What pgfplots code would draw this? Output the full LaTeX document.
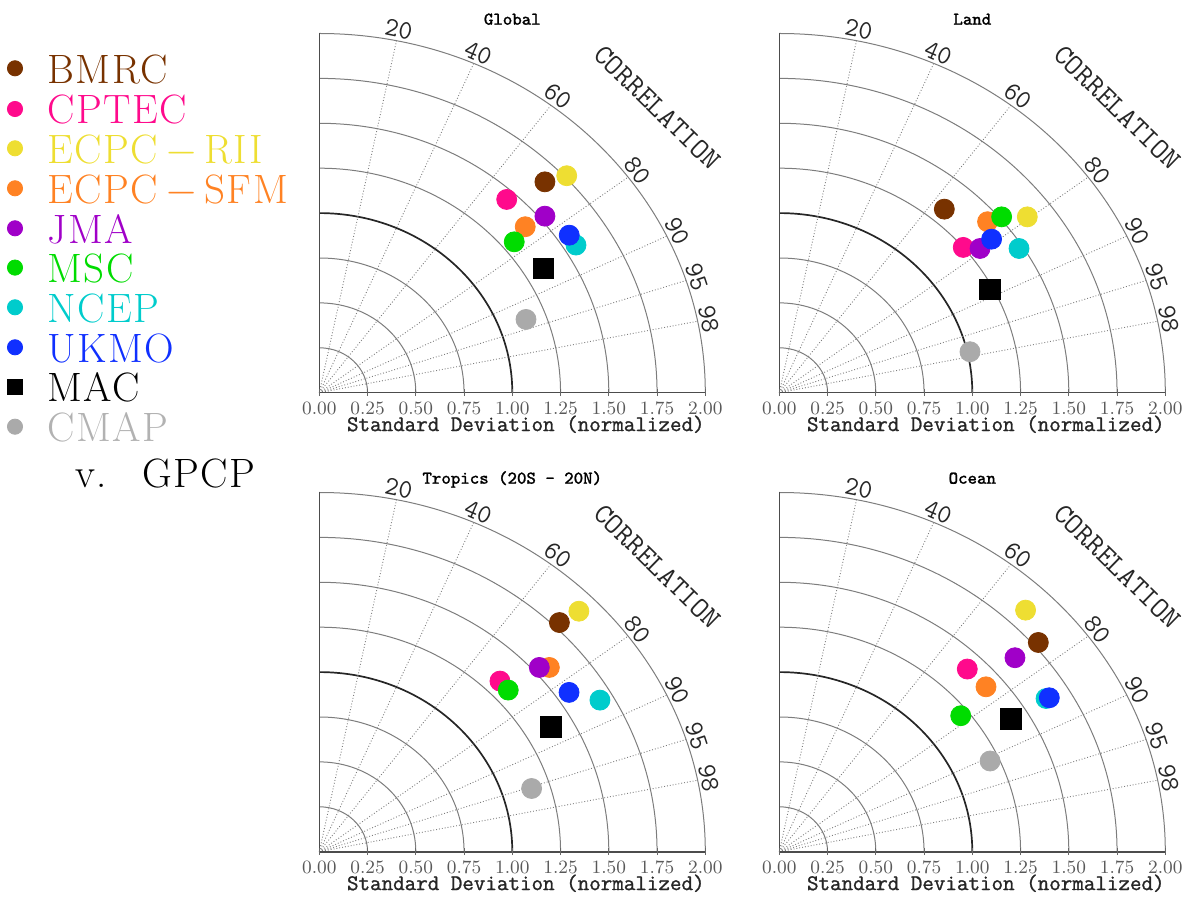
\documentclass[border=0pt]{standalone}
\usepackage{fontspec}
\usepackage{pgfplots}
\usepackage{pgfplotstable}
\pgfplotsset{compat=1.18}
\newfontfamily\lmmono{Latin Modern Mono}
\newfontfamily\lmmonob{Latin Modern Mono}[FakeBold=1.2]
\newfontfamily\legfont{Latin Modern Roman}[LetterSpace=4]
\definecolor{cBMRC}{RGB}{120,50,0}
\definecolor{cCPTEC}{RGB}{255,10,140}
\definecolor{cRII}{RGB}{238,222,50}
\definecolor{cSFM}{RGB}{255,130,35}
\definecolor{cJMA}{RGB}{160,0,200}
\definecolor{cMSC}{RGB}{0,220,0}
\definecolor{cNCEP}{RGB}{0,204,204}
\definecolor{cUKMO}{RGB}{16,48,255}
\definecolor{cMAC}{RGB}{0,0,0}
\definecolor{cCMAP}{RGB}{170,170,170}
\definecolor{gridgray}{RGB}{125,125,125}

% x = std*corr, y = std*sqrt(1-corr^2) (normalized std dev)
\pgfplotstableread{
x y m
1.169 1.174 BMRC
0.971 1.076 CPTEC
1.282 1.208 RII
1.067 0.924 SFM
1.169 0.983 JMA
1.010 0.840 MSC
1.330 0.822 NCEP
1.295 0.877 UKMO
1.161 0.692 MAC
1.071 0.408 CMAP
}\globaldata
\pgfplotstableread{
x y m
0.855 1.022 BMRC
0.953 0.809 CPTEC
1.285 0.979 RII
1.079 0.952 SFM
1.040 0.803 JMA
1.152 0.979 MSC
1.242 0.803 NCEP
1.100 0.855 UKMO
1.092 0.575 MAC
0.988 0.228 CMAP
}\landdata
\pgfplotstableread{
x y m
1.244 1.276 BMRC
0.936 0.950 CPTEC
1.345 1.339 RII
1.192 1.026 SFM
1.140 1.026 JMA
0.979 0.900 MSC
1.454 0.844 NCEP
1.294 0.887 UKMO
1.199 0.696 MAC
1.100 0.352 CMAP
}\tropicsdata
\pgfplotstableread{
x y m
1.342 1.165 BMRC
0.974 1.017 CPTEC
1.276 1.345 RII
1.071 0.918 SFM
1.221 1.080 JMA
0.940 0.757 MSC
1.382 0.853 NCEP
1.399 0.857 UKMO
1.199 0.738 MAC
1.092 0.505 CMAP
}\oceandata
\pgfplotstableread{
x y m
15 68.3 BMRC
15 109.0 CPTEC
15 148.3 RII
15 188.3 SFM
15 228.3 JMA
15 267.6 MSC
15 307.3 NCEP
15 347.3 UKMO
15 386.7 MAC
15 426.7 CMAP
}\legenddata

\pgfplotsset{
  mclasses/.style={scatter/classes={
    BMRC={mark=*,cBMRC}, CPTEC={mark=*,cCPTEC}, RII={mark=*,cRII},
    SFM={mark=*,cSFM}, JMA={mark=*,cJMA}, MSC={mark=*,cMSC},
    NCEP={mark=*,cNCEP}, UKMO={mark=*,cUKMO},
    MAC={mark=square*,black,mark size=#1}, CMAP={mark=*,cCMAP}}},
  taylor/.style n args={3}{
    at={(#1,#2)}, anchor=south west,
    x=96.5pt, y=89.8pt, xmin=0, xmax=2, ymin=0, ymax=2,
    enlargelimits=false, clip=false,
    axis x line=bottom, axis y line=none,
    axis line style={draw=none},
    xtick={0,0.25,0.5,0.75,1,1.25,1.5,1.75,2},
    xticklabels={0.00,0.25,0.50,0.75,1.00,1.25,1.50,1.75,2.00},
    ytick=\empty,
    tick align=center, major tick length=3.5pt,
    tick style={black!60, line width=0.5pt},
    xticklabel style={font=\fontsize{9.4}{9.4}\selectfont, text=black!65, inner sep=1pt, yshift=-1.6pt},
    xlabel={Standard Deviation (normalized)},
    xlabel style={font=\lmmonob\fontsize{11.2}{11.2}\selectfont, text=black!85,
      at={(axis description cs:0.535,0)}, anchor=base, yshift=-19.2pt},
    title={#3},
    title style={font=\lmmonob\fontsize{9}{9}\selectfont, text=black,
      at={(axis description cs:0.5,1)}, anchor=base, yshift=-1.6pt},
  }
}

\newcommand\taylorgrid[2]{%
\begin{scope}[shift={(#1,#2)}, x=96.5pt, y=89.8pt]
 \foreach \r in {0.25,0.5,0.75,1.25,1.5,1.75,2}{
   \draw[gridgray, line width=0.5pt] (\r,0) arc[start angle=0, end angle=90, x radius=\r, y radius=\r];}
 \draw[black!85, line width=0.85pt] (1,0) arc[start angle=0, end angle=90, x radius=1, y radius=1];
 \foreach \c/\lab in {0.2/20,0.4/40,0.6/60,0.8/80,0.9/90,0.95/95,0.98/98}{
   \draw[gridgray, densely dotted, line width=0.45pt] (0,0) -- ({2*\c},{2*sqrt(1-\c*\c)});
   \node[anchor=south, rotate={acos(\c)-90}, inner sep=1.2pt,
     font=\lmmono\fontsize{13.3}{13.3}\selectfont, text=black!85] at ({2*\c},{2*sqrt(1-\c*\c)}) {\lab};}
 \node[rotate=-44.3, font=\lmmono\fontsize{14.5}{14.5}\selectfont, text=black!85] at (1.751,1.588) {CORRELATION};
 \draw[black!70, line width=0.8pt] (0,2) -- (0,0) -- (2,0);
\end{scope}}

\begin{document}
\begin{tikzpicture}
\path[use as bounding box] (0pt,0pt) rectangle (594.5pt,450pt);

\taylorgrid{159.65pt}{253.65pt}
\taylorgrid{389.65pt}{253.65pt}
\taylorgrid{159.65pt}{24.15pt}
\taylorgrid{389.65pt}{24.15pt}

\begin{axis}[taylor={159.65pt}{253.65pt}{Global}]
\addplot[only marks, scatter, scatter src=explicit symbolic, mark size=5pt, mclasses=5.2pt] table[x=x,y=y,meta=m]{\globaldata};
\end{axis}
\begin{axis}[taylor={389.65pt}{253.65pt}{Land}]
\addplot[only marks, scatter, scatter src=explicit symbolic, mark size=5pt, mclasses=5.2pt] table[x=x,y=y,meta=m]{\landdata};
\end{axis}
\begin{axis}[taylor={159.65pt}{24.15pt}{Tropics (20S - 20N)}]
\addplot[only marks, scatter, scatter src=explicit symbolic, mark size=5pt, mclasses=5.2pt] table[x=x,y=y,meta=m]{\tropicsdata};
\end{axis}
\begin{axis}[taylor={389.65pt}{24.15pt}{Ocean}]
\addplot[only marks, scatter, scatter src=explicit symbolic, mark size=5pt, mclasses=5.2pt] table[x=x,y=y,meta=m]{\oceandata};
\end{axis}

% legend
\begin{axis}[at={(0pt,0pt)}, anchor=south west, scale only axis, width=150pt, height=450pt,
  xmin=0, xmax=300, ymin=0, ymax=900, y dir=reverse, enlargelimits=false, hide axis, clip=false]
\addplot[only marks, scatter, scatter src=explicit symbolic, mark size=3.8pt, mclasses=3.8pt] table[x=x,y=y,meta=m]{\legenddata};
\begin{scope}[every node/.style={anchor=base west, inner sep=0pt, font=\legfont\fontsize{20.5}{20.5}\selectfont}]
\node[text=cBMRC] at (axis cs:46.7,83.3) {BMRC};
\node[text=cCPTEC] at (axis cs:46.7,124.0) {CPTEC};
\node[text=cRII] at (axis cs:46.7,163.3) {ECPC\,$-$\,RII};
\node[text=cSFM] at (axis cs:46.7,203.3) {ECPC\,$-$\,SFM};
\node[text=cJMA] at (axis cs:46.7,243.3) {JMA};
\node[text=cMSC] at (axis cs:46.7,282.6) {MSC};
\node[text=cNCEP] at (axis cs:46.7,322.3) {NCEP};
\node[text=cUKMO] at (axis cs:46.7,362.3) {UKMO};
\node[text=black] at (axis cs:46.7,401.7) {MAC};
\node[text=black!30] at (axis cs:46.7,441.7) {CMAP};
\node[text=black] at (axis cs:75,487.3) {v.};
\node[text=black] at (axis cs:141.7,487.3) {GPCP};
\end{scope}
\end{axis}
\end{tikzpicture}
\end{document}
